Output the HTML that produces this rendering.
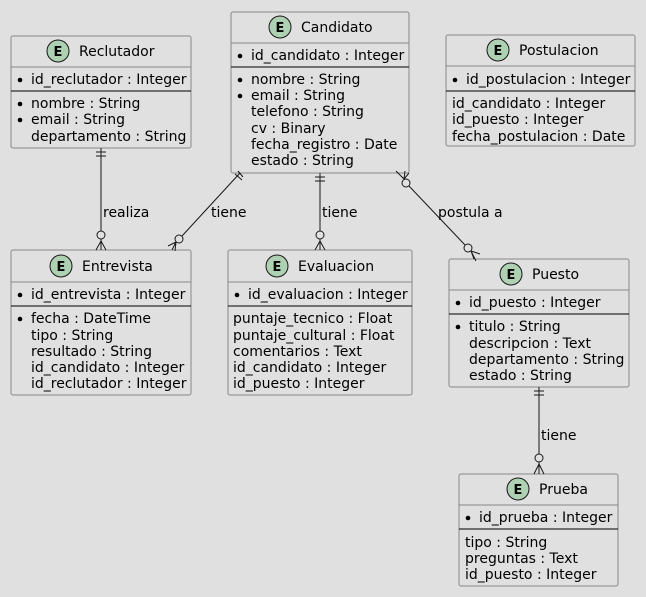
<!DOCTYPE html>
<html><head><meta charset="utf-8"><style>
html,body{margin:0;padding:0;background:#E0E0E0;overflow:hidden;}
svg{display:block;}
svg text{font-family:"DejaVu Sans","Liberation Sans",sans-serif;font-size:14px;fill:#000;}
.t{font-size:14px;}
.e{font-weight:bold;font-size:13px;}
.b{fill:#E0E0E0;stroke:#888;stroke-width:1;}
.s{stroke:#888;stroke-width:1;}
.hr{stroke:#000;stroke-width:1;}
.c{fill:#ADD1B2;stroke:#181818;stroke-width:1;}
.l{stroke:#181818;stroke-width:1;fill:none;}
.o{fill:#E0E0E0;stroke:#181818;stroke-width:1;}
</style></head><body>
<svg width="646" height="597" xmlns="http://www.w3.org/2000/svg">
<!-- Reclutador -->
<rect class="b" x="11" y="36" width="180" height="112" rx="2"/>
<line class="s" x1="11" y1="67" x2="191" y2="67"/>
<circle class="c" cx="58" cy="51" r="11"/><text class="e" x="53.5" y="56">E</text>
<text class="t" x="79" y="56">Reclutador</text>
<circle cx="20" cy="80" r="2.3"/><text x="31" y="84">id_reclutador : Integer</text>
<line class="hr" x1="11" y1="91" x2="191" y2="91"/>
<circle cx="20" cy="104" r="2.3"/><text x="31" y="108">nombre : String</text>
<circle cx="20" cy="120" r="2.3"/><text x="31" y="124">email : String</text>
<text x="31" y="141">departamento : String</text>

<!-- Candidato -->
<rect class="b" x="231" y="12" width="178" height="161" rx="2"/>
<line class="s" x1="231" y1="43" x2="409" y2="43"/>
<circle class="c" cx="280" cy="27" r="11"/><text class="e" x="275.5" y="32">E</text>
<text class="t" x="301" y="32">Candidato</text>
<circle cx="240" cy="56" r="2.3"/><text x="251" y="60">id_candidato : Integer</text>
<line class="hr" x1="231" y1="67" x2="409" y2="67"/>
<circle cx="240" cy="80" r="2.3"/><text x="251" y="84">nombre : String</text>
<circle cx="240" cy="96" r="2.3"/><text x="251" y="100">email : String</text>
<text x="251" y="116">telefono : String</text>
<text x="251" y="133">cv : Binary</text>
<text x="251" y="149">fecha_registro : Date</text>
<text x="251" y="165">estado : String</text>

<!-- Postulacion -->
<rect class="b" x="446" y="35" width="189" height="111" rx="2"/>
<line class="s" x1="446" y1="66" x2="635" y2="66"/>
<circle class="c" cx="498" cy="50" r="11"/><text class="e" x="493.5" y="55">E</text>
<text class="t" x="519" y="55">Postulacion</text>
<circle cx="455" cy="80" r="2.3"/><text x="466" y="84">id_postulacion : Integer</text>
<line class="hr" x1="446" y1="91" x2="635" y2="91"/>
<text x="452" y="108">id_candidato : Integer</text>
<text x="452" y="124">id_puesto : Integer</text>
<text x="452" y="141">fecha_postulacion : Date</text>

<!-- Entrevista -->
<rect class="b" x="11" y="250" width="180" height="145" rx="2"/>
<line class="s" x1="11" y1="282" x2="191" y2="282"/>
<circle class="c" cx="61" cy="266" r="11"/><text class="e" x="56.5" y="271">E</text>
<text class="t" x="82" y="271">Entrevista</text>
<circle cx="20" cy="295" r="2.3"/><text x="31" y="299">id_entrevista : Integer</text>
<line class="hr" x1="11" y1="306" x2="191" y2="306"/>
<circle cx="20" cy="319" r="2.3"/><text x="31" y="323">fecha : DateTime</text>
<text x="31" y="340">tipo : String</text>
<text x="31" y="356">resultado : String</text>
<text x="31" y="372">id_candidato : Integer</text>
<text x="31" y="388">id_reclutador : Integer</text>

<!-- Evaluacion -->
<rect class="b" x="228" y="250" width="184" height="145" rx="2"/>
<line class="s" x1="228" y1="282" x2="412" y2="282"/>
<circle class="c" cx="277" cy="266" r="11"/><text class="e" x="272.5" y="271">E</text>
<text class="t" x="298" y="271">Evaluacion</text>
<circle cx="237" cy="295" r="2.3"/><text x="248" y="299">id_evaluacion : Integer</text>
<line class="hr" x1="228" y1="306" x2="412" y2="306"/>
<text x="233" y="323">puntaje_tecnico : Float</text>
<text x="233" y="340">puntaje_cultural : Float</text>
<text x="233" y="356">comentarios : Text</text>
<text x="233" y="372">id_candidato : Integer</text>
<text x="233" y="388">id_puesto : Integer</text>

<!-- Puesto -->
<rect class="b" x="449" y="259" width="180" height="128" rx="2"/>
<line class="s" x1="449" y1="290" x2="629" y2="290"/>
<circle class="c" cx="511" cy="274" r="11"/><text class="e" x="506.5" y="279">E</text>
<text class="t" x="532" y="279">Puesto</text>
<circle cx="458" cy="303" r="2.3"/><text x="469" y="307">id_puesto : Integer</text>
<line class="hr" x1="449" y1="314" x2="629" y2="314"/>
<circle cx="458" cy="327" r="2.3"/><text x="469" y="331">titulo : String</text>
<text x="469" y="348">descripcion : Text</text>
<text x="469" y="364">departamento : String</text>
<text x="469" y="380">estado : String</text>

<!-- Prueba -->
<rect class="b" x="459" y="474" width="159" height="112" rx="2"/>
<line class="s" x1="459" y1="505" x2="618" y2="505"/>
<circle class="c" cx="518" cy="489" r="11"/><text class="e" x="513.5" y="494">E</text>
<text class="t" x="539" y="494">Prueba</text>
<circle cx="468" cy="518" r="2.3"/><text x="479" y="522">id_prueba : Integer</text>
<line class="hr" x1="459" y1="529" x2="618" y2="529"/>
<text x="465" y="547">tipo : String</text>
<text x="465" y="563">preguntas : Text</text>
<text x="465" y="579">id_puesto : Integer</text>

<!-- Reclutador - Entrevista -->
<line class="l" x1="101" y1="148" x2="101" y2="231"/>
<line class="l" x1="96" y1="152" x2="106" y2="152"/><line class="l" x1="96" y1="156" x2="106" y2="156"/>
<circle class="o" cx="101" cy="235" r="4"/>
<path class="l" d="M101 239 L101 250 M96 250 L101 241 L106 250"/>
<text x="103" y="217">realiza</text>

<!-- Candidato - Entrevista -->
<line class="l" x1="240" y1="173" x2="182" y2="236"/>
<path class="l" d="M235 174 L242 180 M238 171 L243 177"/>
<circle class="o" cx="179" cy="239" r="4"/>
<path class="l" d="M176 242 L172 250 M168 246 L176 242 M176 242 L175 251"/>
<text x="211" y="217">tiene</text>

<!-- Candidato - Evaluacion -->
<line class="l" x1="320" y1="173" x2="320" y2="231"/>
<line class="l" x1="315" y1="177" x2="325" y2="177"/><line class="l" x1="315" y1="181" x2="325" y2="181"/>
<circle class="o" cx="320" cy="235" r="4"/>
<path class="l" d="M320 239 L320 250 M315 250 L320 241 L325 250"/>
<text x="322" y="217">tiene</text>

<!-- Candidato - Puesto -->
<path class="l" d="M396 171 L404 179 L405 171 M404 179 L409 173"/>
<circle class="o" cx="406" cy="183" r="4"/>
<line class="l" x1="409" y1="186" x2="465" y2="245"/>
<circle class="o" cx="468" cy="248" r="4"/>
<path class="l" d="M471 251 L474 259 M471 251 L480 254 M471 251 L476 261"/>
<text x="438" y="217">postula a</text>

<!-- Puesto - Prueba -->
<line class="l" x1="539" y1="387" x2="539" y2="454"/>
<line class="l" x1="534" y1="391" x2="544" y2="391"/><line class="l" x1="534" y1="395" x2="544" y2="395"/>
<circle class="o" cx="539" cy="458" r="4"/>
<path class="l" d="M539 462 L539 474 M534 474 L539 464 L544 474"/>
<text x="541" y="440">tiene</text>
</svg>
</body></html>
